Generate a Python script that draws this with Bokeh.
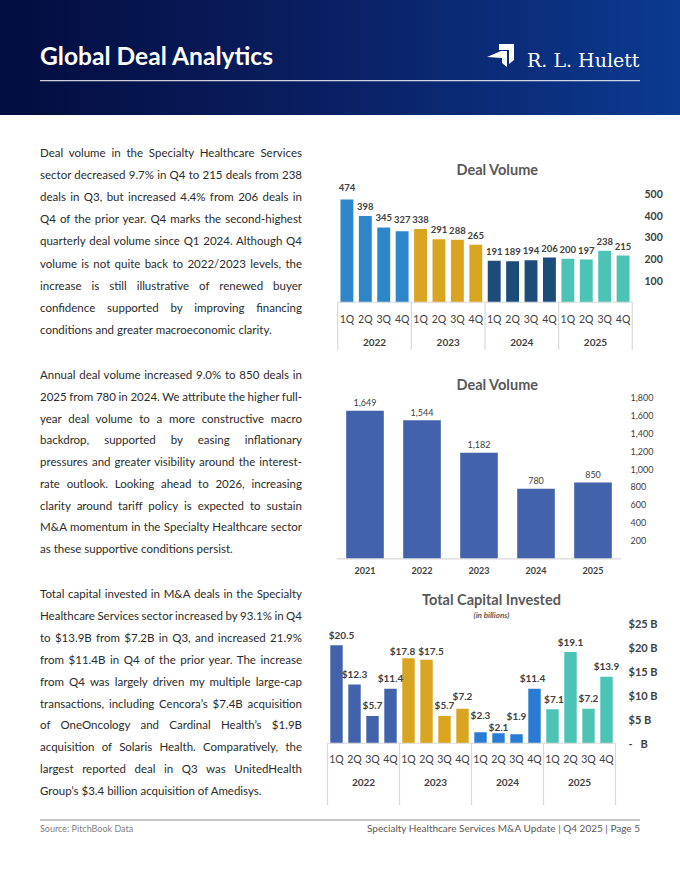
from bokeh.plotting import figure
from bokeh.models import FactorRange, Range1d, FixedTicker, Label, Div, ColumnDataSource
from bokeh.layouts import column, row
from bokeh.embed import file_html
from bokeh.resources import INLINE
from bokeh.core.properties import value

# ---------------- data ----------------
years = ["2022", "2023", "2024", "2025"]
quarters = ["1Q", "2Q", "3Q", "4Q"]
deal_volume_quarterly = [474, 398, 345, 327, 338, 291, 288, 265,
                         191, 189, 194, 206, 200, 197, 238, 215]
volume_ticks = [100, 200, 300, 400, 500]

annual_years = ["2021", "2022", "2023", "2024", "2025"]
annual_deal_volume = [1649, 1544, 1182, 780, 850]
annual_ticks = [200, 400, 600, 800, 1000, 1200, 1400, 1600, 1800]

capital_invested_b = [20.5, 12.3, 5.7, 11.4, 17.8, 17.5, 5.7, 7.2,
                      2.3, 2.1, 1.9, 11.4, 7.1, 19.1, 7.2, 13.9]
capital_ticks = [0, 5, 10, 15, 20, 25]
capital_tick_labels = ["-\u00a0\u00a0\u00a0B", "$5 B", "$10 B", "$15 B", "$20 B", "$25 B"]

para1 = ["Deal volume in the Specialty Healthcare Services",
         "sector decreased 9.7% in Q4 to 215 deals from 238",
         "deals in Q3, but increased 4.4% from 206 deals in",
         "Q4 of the prior year. Q4 marks the second-highest",
         "quarterly deal volume since Q1 2024. Although Q4",
         "volume is not quite back to 2022/2023 levels, the",
         "increase is still illustrative of renewed buyer",
         "confidence supported by improving financing",
         "conditions and greater macroeconomic clarity."]
para2 = ["Annual deal volume increased 9.0% to 850 deals in",
         "2025 from 780 in 2024. We attribute the higher full-",
         "year deal volume to a more constructive macro",
         "backdrop, supported by easing inflationary",
         "pressures and greater visibility around the interest-",
         "rate outlook. Looking ahead to 2026, increasing",
         "clarity around tariff policy is expected to sustain",
         "M&amp;A momentum in the Specialty Healthcare sector",
         "as these supportive conditions persist."]
para3 = ["Total capital invested in M&amp;A deals in the Specialty",
         "Healthcare Services sector increased by 93.1% in Q4",
         "to $13.9B from $7.2B in Q3, and increased 21.9%",
         "from $11.4B in Q4 of the prior year. The increase",
         "from Q4 was largely driven my multiple large-cap",
         "transactions, including Cencora\u2019s $7.4B acquisition",
         "of OneOncology and Cardinal Health\u2019s $1.9B",
         "acquisition of Solaris Health. Comparatively, the",
         "largest reported deal in Q3 was UnitedHealth",
         "Group\u2019s $3.4 billion acquisition of Amedisys."]

# ---------------- styles ----------------
FONT = "Lato"
TXT = "#404040"
TITLE = "#595959"
SEP = "#D9D9D9"
vol_colors = {"2022": "#2E86CA", "2023": "#D9A420", "2024": "#1D4C7B", "2025": "#4BC4B6"}
cap_colors = {"2022": "#4263AB", "2023": "#D9A420", "2024": "#2A7BD4", "2025": "#4BC4B6"}
annual_color = "#4263AB"
# small label nudges (screen px) mimicking the hand-placed data labels
vol_label_dx = [0] * 16
vol_label_dy = [-2, 0, 0, -2, 0, 0, 0, 0, 0, 0, 0, 0, 0, 0, 0, 0]
cap_label_dx = [5, 0, 0, 0, -6, 4.5, 0, 0, 0, 0, 0, -2, 1.5, 0, 0, 0]
cap_label_dy = [0, 0, 0, 0, 3, 1.5, 0, -2.5, -6.5, 4, -8, 0, 0, 1, 0, 0]


def base_fig(fw, fh, bl, br, y0, y1, xr):
    p = figure(frame_width=fw, frame_height=fh, x_range=xr, y_range=Range1d(y0, y1),
               output_backend="svg", toolbar_location=None, tools="",
               x_axis_location=None, y_axis_location="right",
               min_border_left=bl, min_border_right=br, min_border_top=0, min_border_bottom=0)
    if "frame_align" in p.properties():
        p.frame_align = False
    p.outline_line_color = None
    p.grid.visible = False
    p.background_fill_color = "white"
    p.border_fill_color = "white"
    ax = p.yaxis[0]
    ax.axis_line_color = None
    ax.major_tick_line_color = None
    ax.minor_tick_line_color = None
    ax.major_tick_out = 0
    ax.major_tick_in = 0
    ax.major_label_text_font = FONT
    ax.major_label_text_color = TXT
    return p


def title_label(p, x, y, text, size, style="bold"):
    p.add_layout(Label(x=x, y=y, text=text,
                       text_align="center", text_baseline="alphabetic",
                       text_font=FONT, text_font_size=size, text_font_style=style,
                       text_color=TITLE))


def quarterly(values, colors, fmt, dx, dy, base_off, fw, fh, bl, br, y0, y1,
              q_off, y_off, bar_w, lab_size):
    factors = [(y, q) for y in years for q in quarters]
    n = len(factors)
    xr = FactorRange(factors=factors, factor_padding=0, group_padding=0,
                     range_padding=1.0 / n)
    p = base_fig(fw, fh, bl, br, y0, y1, xr)
    src = ColumnDataSource(dict(x=factors, top=values,
                                color=[colors[f[0]] for f in factors],
                                label=[fmt(v) for v in values],
                                dx=dx, dy=[base_off + d for d in dy]))
    p.vbar(x="x", top="top", width=bar_w, fill_color="color", line_color=None, source=src)
    p.text(x="x", y="top", text="label", source=src, text_align="center",
           text_baseline="alphabetic", x_offset="dx", y_offset="dy", text_font=value(FONT),
           text_font_style="bold", text_font_size=lab_size, text_color=TXT)
    # baseline + group separators
    bounds = [0]
    for y in years:
        bounds.append(bounds[-1] + len(quarters))
    p.segment(x0=[bounds[0]], y0=[0], x1=[bounds[-1]], y1=[0], line_color=SEP, line_width=1)
    p.segment(x0=bounds, y0=[0] * len(bounds), x1=bounds, y1=[y0] * len(bounds),
              line_color=SEP, line_width=1.2)
    qsrc = ColumnDataSource(dict(x=factors, y=[0] * n, t=[f[1] for f in factors]))
    p.text(x="x", y="y", text="t", source=qsrc, text_align="center", text_baseline="middle",
           y_offset=q_off, text_font=value(FONT), text_font_size="10.5px", text_color=TXT)
    ysrc = ColumnDataSource(dict(x=years, y=[0] * len(years), t=years))
    p.text(x="x", y="y", text="t", source=ysrc, text_align="center", text_baseline="middle",
           y_offset=y_off, text_font=value(FONT), text_font_style="bold",
           text_font_size="10px", text_color=TXT)
    return p


# ---- chart 1: quarterly deal volume ----
p1 = quarterly(deal_volume_quarterly, vol_colors, lambda v: f"{v}",
               vol_label_dx, vol_label_dy, -9.5,
               313, 235, 12, 39, -222.9, 861.6, 16.6, 40, 0.7, "9.5px")
a1 = p1.yaxis[0]
a1.ticker = FixedTicker(ticks=volume_ticks)
a1.major_label_standoff = 3
a1.major_label_text_font_size = "10.5px"
a1.major_label_text_font_style = "bold"
title_label(p1, 8.68, 612, "Deal Volume", "14.5px")

# ---- chart 2: annual deal volume ----
xr2 = FactorRange(factors=annual_years, factor_padding=0, range_padding=0)
p2 = base_fig(285, 230, 20, 59, -241.7, 2320.1, xr2)
src2 = ColumnDataSource(dict(x=annual_years, top=annual_deal_volume,
                             label=[f"{v:,}" for v in annual_deal_volume],
                             y=[0] * len(annual_years)))
p2.vbar(x="x", top="top", width=0.66, fill_color=annual_color, line_color=None, source=src2)
p2.text(x="x", y="top", text="label", source=src2, text_align="center",
        text_baseline="alphabetic", y_offset=-8, text_font=value(FONT),
        text_font_size="9px", text_color=TXT)
p2.segment(x0=[0], y0=[0], x1=[len(annual_years)], y1=[0], line_color=SEP, line_width=1.2)
p2.text(x="x", y="y", text="x", source=src2, text_align="center", text_baseline="middle",
        y_offset=11.7, text_font=value(FONT), text_font_style="bold",
        text_font_size="9px", text_color=TXT)
a2 = p2.yaxis[0]
a2.ticker = FixedTicker(ticks=annual_ticks)
a2.major_label_overrides = {float(t): f"{t:,}" for t in annual_ticks}
a2.major_label_standoff = 9
a2.major_label_text_font_size = "9px"
title_label(p2, 2.825, 1941, "Deal Volume", "14.5px")

# ---- chart 3: total capital invested ----
p3 = quarterly(capital_invested_b, cap_colors, lambda v: f"${v:.1f}",
               cap_label_dx, cap_label_dy, -10.5,
               306, 225, 2, 56, -13.04, 34.07, 15.6, 39, 0.69, "10px")
a3 = p3.yaxis[0]
a3.ticker = FixedTicker(ticks=capital_ticks)
a3.major_label_overrides = {float(t): s for t, s in zip(capital_ticks, capital_tick_labels)}
a3.major_label_standoff = 4
a3.major_label_text_font_size = "11px"
a3.major_label_text_font_style = "bold"
title_label(p3, 9.11, 30.09, "Total Capital Invested", "14.5px")
title_label(p3, 9.11, 26.94, "(in billions)", "8px", "bold italic")

# ---------------- page chrome ----------------
header_svg = """
<svg width="680" height="115" xmlns="http://www.w3.org/2000/svg" style="display:block">
<defs><linearGradient id="hg" x1="0" y1="0" x2="1" y2="0">
<stop offset="0" stop-color="#030c3e"/><stop offset="0.5" stop-color="#0a2064"/>
<stop offset="1" stop-color="#0b3a90"/></linearGradient></defs>
<rect width="680" height="115" fill="url(#hg)"/>
<text x="40" y="65" style="font-family:Lato;font-weight:bold;font-size:24.6px;fill:#ffffff">Global Deal Analytics</text>
<polygon points="499,44 514,44 514,60 509,64 509,50 499,50" fill="#ffffff"/>
<polygon points="487,57 501,51 507,51 507,67 502,63 502,58" fill="#ffffff"/>
<text x="527" y="66.7" style="font-family:'DejaVu Serif',serif;font-size:19px;fill:#ffffff">R. L. Hulett</text>
<rect x="40" y="80.2" width="600" height="1" fill="#ffffff"/>
</svg>"""
header = Div(text=header_svg, width=680, height=115, margin=0)


def para_html(lines, top, pitch):
    out = []
    for i, ln in enumerate(lines):
        last = i == len(lines) - 1
        align = "left" if last else "justify"
        ws = "normal" if last else "-1.5px"
        out.append(
            f'<div style="position:absolute;left:40px;top:{top + i * pitch:.1f}px;width:262px;'
            f'height:22px;line-height:22px;word-spacing:{ws};'
            f'text-align:{align};text-align-last:{align};">{ln}</div>')
    return "".join(out)


left_html = ('<div style="position:relative;width:316px;height:690px;font-family:Lato;'
             'font-size:11.5px;color:#2b2b2b;">'
             + para_html(para1, 27, 22.1) + para_html(para2, 249, 21.75)
             + para_html(para3, 468, 21.9) + '</div>')
left = Div(text=left_html, width=316, height=690, margin=0)

footer_svg = """
<svg width="680" height="75" xmlns="http://www.w3.org/2000/svg" style="display:block">
<rect x="40" y="14.5" width="600" height="1" fill="#8c8c8c"/>
<text x="40" y="27" style="font-family:Lato;font-size:9px;fill:#7f7f7f">Source: PitchBook Data</text>
<text x="640" y="27" text-anchor="end" style="font-family:Lato;font-size:10px;fill:#595959">Specialty Healthcare Services M&amp;A Update | Q4 2025 | Page 5</text>
</svg>"""
footer = Div(text=footer_svg, width=680, height=75, margin=0)

root = column(header, row(left, column(p1, p2, p3)), footer)

open("out.html", "w").write(file_html(root, INLINE))
